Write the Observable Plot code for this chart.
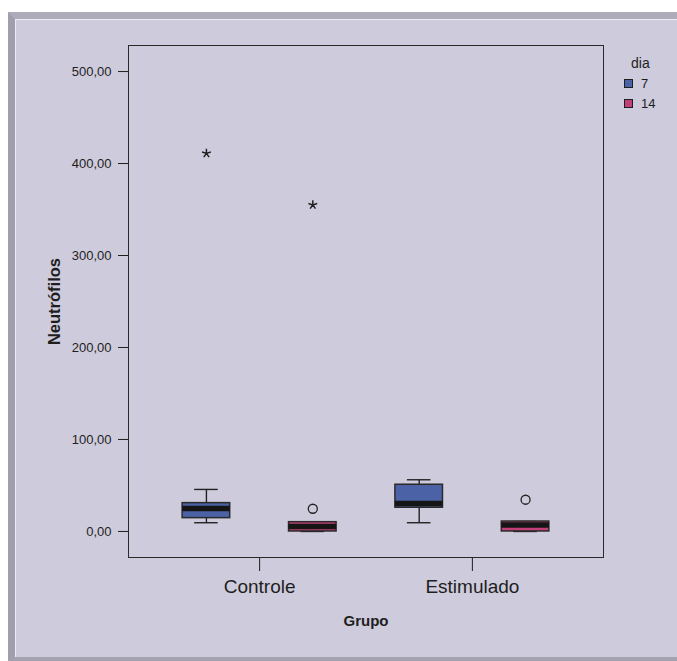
<!DOCTYPE html>
<html>
<head>
<meta charset="utf-8">
<script src="https://cdn.jsdelivr.net/npm/d3@7"></script>
<script src="https://cdn.jsdelivr.net/npm/@observablehq/plot@0.6"></script>
<style>
  html, body { margin: 0; padding: 0; background: #ffffff; }
  body { width: 677px; height: 661px; position: relative; overflow: hidden;
         font-family: "Liberation Sans", Arial, sans-serif; }
  #painel {
    position: absolute; left: 8px; top: 12px; width: 680px; height: 649px;
    background: #cecbdc;
    border-left: 7px solid #a19fae; border-top: 7px solid #aeacba; border-bottom: 4px solid #a4a2b0;
    box-shadow: inset 1px 1px 0 #eceaf3;
    box-sizing: border-box;
  }
  #grafico { position: absolute; left: 0; top: 0; }
  #grafico [aria-label="y-axis label"] text { font-weight: bold; font-size: 16.5px; }
  #grafico [aria-label="x-axis tick label"] text { font-size: 19px; }
  #grafico [aria-label="x-axis label"] text { font-weight: bold; font-size: 15px; }
  #legenda { position: absolute; left: 624px; top: 55px; color: #1e1e1e; }
  #legenda .titulo { font-size: 14px; margin-left: 7px; line-height: 16px; height: 18px; }
  #legenda .item { display: flex; align-items: center; height: 20px; font-size: 13px; }
  #legenda .cor { width: 7px; height: 7px; border: 1px solid #1e1e1e; margin-right: 8px; }
</style>
</head>
<body>
<div id="painel"></div>
<div id="grafico"></div>
<div id="legenda"></div>
<script>
// Grupos no eixo horizontal e dias de coleta (cor)
const grupos = ["Controle", "Estimulado"];
const dias = ["7", "14"];
const cores = ["#4b62a6", "#c13f78"];

// Resumo de cada caixa: grupo, dia, extremos dos bigodes, quartis e mediana
const caixaGrupo = ["Controle", "Controle", "Estimulado", "Estimulado"];
const caixaDia = ["7", "14", "7", "14"];
const minimo = [9.5, 0, 9.5, 0];
const quartil1 = [14.5, 0, 25.8, 0];
const mediana = [25, 5.5, 30.5, 7];
const quartil3 = [30.8, 10.1, 50.8, 10.8];
const maximo = [45.7, 10.1, 56.2, 10.8];

// Valores atípicos (círculo) e extremos (estrela)
const atipicoGrupo = ["Controle", "Estimulado"];
const atipicoDia = ["14", "14"];
const atipicoValor = [24.7, 34.5];
const extremoGrupo = ["Controle", "Controle"];
const extremoDia = ["7", "14"];
const extremoValor = [411, 355];

// Marcas do eixo vertical
const yTicks = [0, 100, 200, 300, 400, 500];

// Posições no eixo x: para cada grupo, a caixa do dia 7, o rótulo do grupo e a
// caixa do dia 14; um espaço vazio separa os dois grupos.
const chave = (g, d) => `${g} · ${d}`;
const posicoes = grupos.flatMap((g, i) => [
  ...(i > 0 ? [" "] : []),
  chave(g, dias[0]), g, chave(g, dias[1])
]);

const caixas = caixaGrupo.map((g, i) => ({
  pos: chave(g, caixaDia[i]), dia: caixaDia[i], min: minimo[i], q1: quartil1[i],
  med: mediana[i], q3: quartil3[i], max: maximo[i]
}));
const atipicos = atipicoGrupo.map((g, i) => ({pos: chave(g, atipicoDia[i]), valor: atipicoValor[i]}));
const extremos = extremoGrupo.map((g, i) => ({pos: chave(g, extremoDia[i]), valor: extremoValor[i]}));

// Estrela de cinco pontas para os valores extremos
const estrela = {
  draw(context, size) {
    const r = Math.sqrt(size / Math.PI);
    for (let k = 0; k < 5; ++k) {
      const a = (k * 2 * Math.PI) / 5;
      context.moveTo(0, 0);
      context.lineTo(r * Math.sin(a), -r * Math.cos(a));
    }
  }
};

const virgula = d => d.toFixed(2).replace(".", ",");

const chart = Plot.plot({
  width: 677,
  height: 661,
  marginLeft: 128,
  marginRight: 74,
  marginTop: 45,
  marginBottom: 104,
  style: {
    background: "none",
    fontFamily: "'Liberation Sans', Arial, sans-serif",
    fontSize: "13px",
    color: "#1e1e1e"
  },
  x: {
    domain: posicoes, paddingInner: 0.106, paddingOuter: 1.018, round: false,
    ticks: grupos, tickSize: 14, tickPadding: 8,
    label: "Grupo", labelAnchor: "center", labelOffset: 68
  },
  y: {
    domain: [-28.3, 528.3], ticks: yTicks, tickFormat: virgula, tickSize: 10, tickPadding: 7,
    label: "Neutrófilos", labelAnchor: "center", labelOffset: 80, labelArrow: "none"
  },
  color: {domain: dias, range: cores},
  marks: [
    Plot.frame({stroke: "#2a2a2a"}),
    Plot.ruleX(caixas, {x: "pos", y1: "min", y2: "max", stroke: "#222", strokeWidth: 1.4}),
    Plot.tickY(caixas, {x: "pos", y: "min", stroke: "#222", strokeWidth: 1.4, insetLeft: 12, insetRight: 12}),
    Plot.tickY(caixas, {x: "pos", y: "max", stroke: "#222", strokeWidth: 1.4, insetLeft: 12, insetRight: 12}),
    Plot.barY(caixas, {x: "pos", y1: "q1", y2: "q3", fill: "dia", stroke: "#2a2a2a", strokeWidth: 1.5}),
    Plot.tickY(caixas, {x: "pos", y: "med", stroke: "#151515", strokeWidth: 5.5}),
    Plot.dot(atipicos, {x: "pos", y: "valor", r: 4.5, fill: "none", stroke: "#222", strokeWidth: 1.3}),
    Plot.dot(extremos, {x: "pos", y: "valor", r: 4.6, symbol: estrela, fill: "none", stroke: "#222", strokeWidth: 1.5})
  ]
});
document.getElementById("grafico").append(chart);

// Legenda dos dias
const legenda = document.getElementById("legenda");
const titulo = document.createElement("div");
titulo.className = "titulo";
titulo.textContent = "dia";
legenda.append(titulo);
dias.forEach((d, i) => {
  const item = document.createElement("div");
  item.className = "item";
  const cor = document.createElement("span");
  cor.className = "cor";
  cor.style.background = cores[i];
  const rotulo = document.createElement("span");
  rotulo.textContent = d;
  item.append(cor, rotulo);
  legenda.append(item);
});
</script>
</body>
</html>
